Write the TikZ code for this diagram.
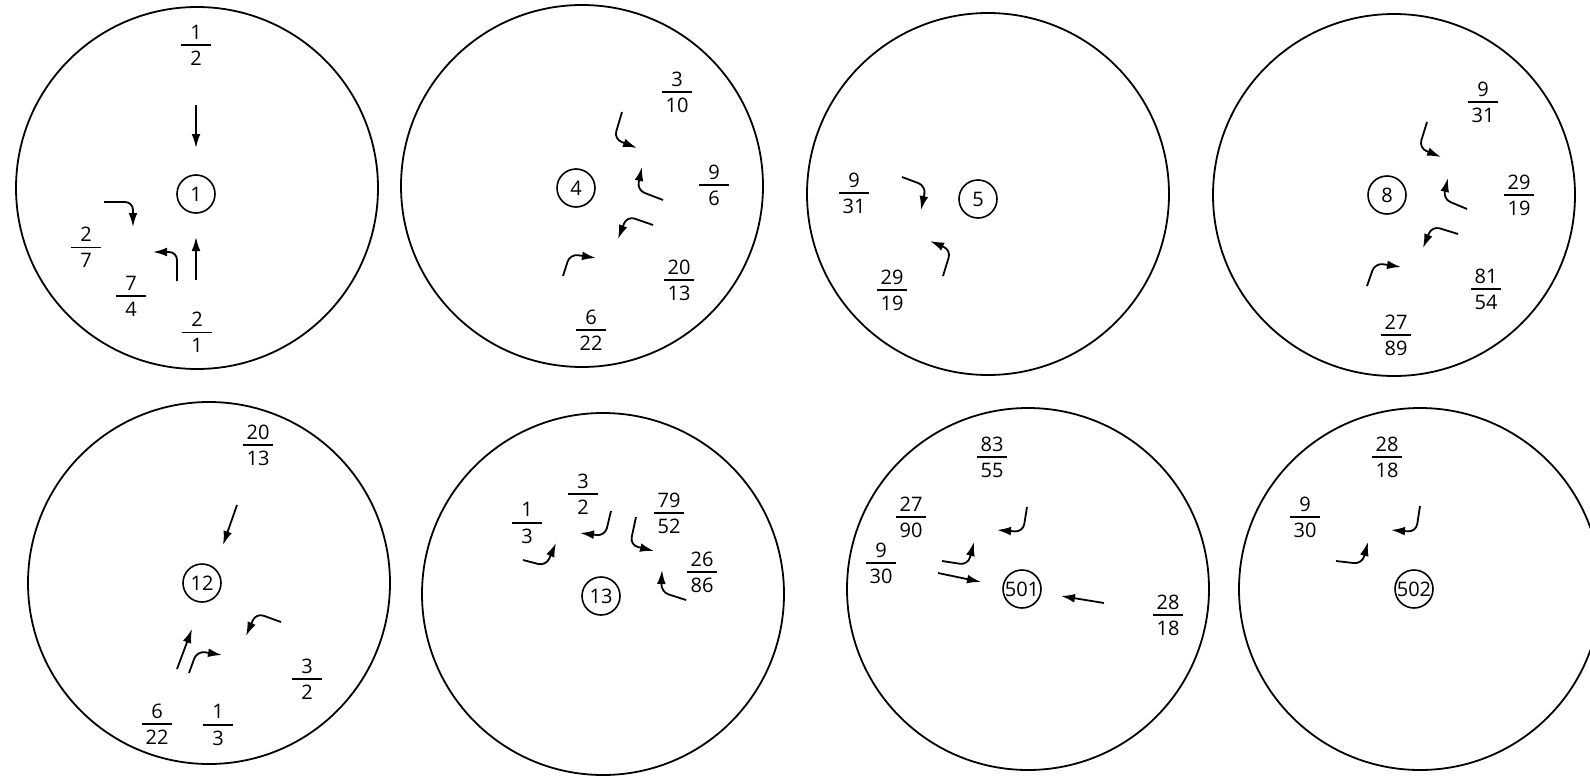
\documentclass[tikz,border=0pt]{standalone}
\usepackage{fontspec}
\setmainfont{Open Sans}
\usepackage{amsmath}
\usepackage{tikz}
\usetikzlibrary{arrows.meta}
\tikzstyle{flow} = [line width=0.9pt,-{Latex[length=7pt,width=4.4pt]},rounded corners=4pt]
\tikzstyle{cell} = [line width=0.9pt]
\tikzstyle{num} = [draw,circle,line width=0.8pt,minimum size=19pt,inner sep=0pt]
\tikzstyle{frac} = [inner sep=0pt]
\newcommand{\fr}[2]{$\genfrac{}{}{0.8pt}{0}{\makebox[15pt]{\raisebox{-1.2pt}{#1}}}{\makebox[15pt]{#2}}$}

\begin{document}
\begin{tikzpicture}[x=0.5pt,y=-0.5pt]
\useasboundingbox (0,0) rectangle (1590,776);

% Cells
\draw[cell] (197,188) circle[radius=90.5pt];
\draw[cell] (582,186) circle[radius=90.5pt];
\draw[cell] (988,194) circle[radius=90.5pt];
\draw[cell] (1394,195) circle[radius=90.5pt];
\draw[cell] (209,583) circle[radius=90.5pt];
\draw[cell] (603,594) circle[radius=90.5pt];
\draw[cell] (1028,589) circle[radius=90.5pt];
\draw[cell] (1420,589) circle[radius=90.5pt];

% Cell 1
\node[num] (n1) at (196,194) {1};
\node[frac] (a1) at (196,45) {\fr{1}{2}};
\node[frac] (b1) at (86,247) {\fr{2}{7}};
\node[frac] (c1) at (131,296) {\fr{7}{4}};
\node[frac] (d1) at (197,332) {\fr{2}{1}};
\draw[flow] (196,105) -- (196,148);
\draw[flow] (196,280) -- (196,237);
\draw[flow] (177,281) -- (177,252) -- (153,252);
\draw[flow] (104,202) -- (133,202) -- (133,227);

% Cell 4
\node[num] (n4) at (576,188) {4};
\node[frac] (a4) at (677,92) {\fr{3}{10}};
\node[frac] (b4) at (714,185) {\fr{9}{6}};
\node[frac] (c4) at (679,280) {\fr{20}{13}};
\node[frac] (d4) at (591,330) {\fr{6}{22}};
\draw[flow] (622,112) -- (614,139) -- (637,148);
\draw[flow] (663,200) -- (637,190) -- (642,167);
\draw[flow] (653,225) -- (627,216) -- (618,239);
\draw[flow] (563,276) -- (570,254) -- (596,258);

% Cell 5
\node[num] (n5) at (978,199) {5};
\node[frac] (a5) at (854,193) {\fr{9}{31}};
\node[frac] (b5) at (892,290) {\fr{29}{19}};
\draw[flow] (902,177) -- (926,186) -- (921,210);
\draw[flow] (943,276) -- (951,250) -- (930,241);

% Cell 8
\node[num] (n8) at (1387,195) {8};
\node[frac] (a8) at (1483,102) {\fr{9}{31}};
\node[frac] (b8) at (1519,195) {\fr{29}{19}};
\node[frac] (c8) at (1486,289) {\fr{81}{54}};
\node[frac] (d8) at (1396,335) {\fr{27}{89}};
\draw[flow] (1427,122) -- (1419,148) -- (1441,157);
\draw[flow] (1467,209) -- (1443,199) -- (1448,178);
\draw[flow] (1458,234) -- (1432,226) -- (1423,248);
\draw[flow] (1367,286) -- (1375,263) -- (1401,267);

% Cell 12
\node[num] (n12) at (202,583) {12};
\node[frac] (a12) at (258,445) {\fr{20}{13}};
\node[frac] (b12) at (307,679) {\fr{3}{2}};
\node[frac] (c12) at (157,724) {\fr{6}{22}};
\node[frac] (d12) at (218,725) {\fr{1}{3}};
\draw[flow] (237,505) -- (223,545);
\draw[flow] (281,622) -- (256,613) -- (246,636);
\draw[flow] (177,669) -- (192,629);
\draw[flow] (189,673) -- (197,651) -- (222,655);

% Cell 13
\node[num] (n13) at (601,596) {13};
\node[frac] (a13) at (527,523) {\fr{1}{3}};
\node[frac] (b13) at (583,494) {\fr{3}{2}};
\node[frac] (c13) at (669,513) {\fr{79}{52}};
\node[frac] (d13) at (702,572) {\fr{26}{86}};
\draw[flow] (523,560) -- (546,566) -- (556,543);
\draw[flow] (611,511) -- (605,536) -- (580,533);
\draw[flow] (636,517) -- (630,545) -- (654,551);
\draw[flow] (686,600) -- (661,592) -- (662,570);

% Cell 501
\node[num] (n501) at (1022,589) {501};
\node[frac] (a501) at (992,457) {\fr{83}{55}};
\node[frac] (b501) at (911,517) {\fr{27}{90}};
\node[frac] (c501) at (881,563) {\fr{9}{30}};
\node[frac] (d501) at (1168,615) {\fr{28}{18}};
\draw[flow] (1027,507) -- (1023,532) -- (997,530);
\draw[flow] (942,561) -- (968,565) -- (974,542);
\draw[flow] (938,573) -- (981,582);
\draw[flow] (1104,603) -- (1061,596);

% Cell 502
\node[num] (n502) at (1414,589) {502};
\node[frac] (a502) at (1387,457) {\fr{28}{18}};
\node[frac] (b502) at (1305,517) {\fr{9}{30}};
\draw[flow] (1420,506) -- (1416,532) -- (1391,530);
\draw[flow] (1336,561) -- (1362,564) -- (1368,542);

\end{tikzpicture}
\end{document}
